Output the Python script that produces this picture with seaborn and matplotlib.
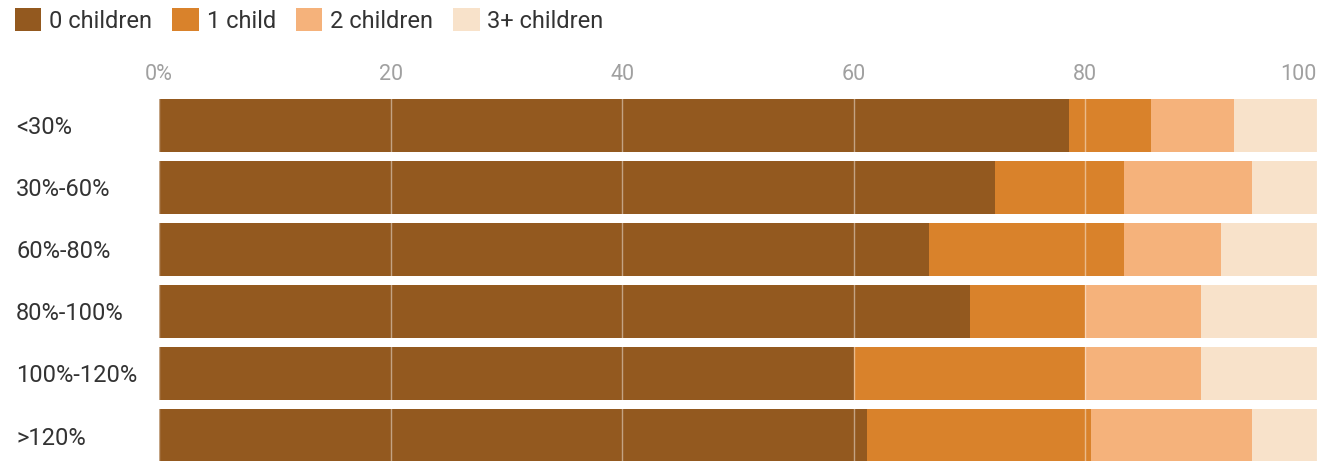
import matplotlib
matplotlib.use("Agg")
import matplotlib.pyplot as plt
from matplotlib.patches import Patch
import seaborn as sns
import pandas as pd
import numpy as np

categories = ["<30%", "30%-60%", "60%-80%", "80%-100%", "100%-120%", ">120%"]
series_names = ["0 children", "1 child", "2 children", "3+ children"]
zero_children = [78.6, 72.2, 66.5, 70.0, 60.0, 61.1]
one_child = [7.1, 11.1, 16.8, 10.0, 20.0, 19.4]
two_children = [7.1, 11.1, 8.4, 10.0, 10.0, 13.9]
three_plus = [7.2, 5.6, 8.3, 10.0, 10.0, 5.6]
colors = ["#93591f", "#d9822b", "#f5b27b", "#f8e2ca"]
tick_values = [0, 20, 40, 60, 80, 100]
tick_labels = ["0%", "20", "40", "60", "80", "100"]

sns.set_theme(style="white")
plt.rcParams["font.family"] = ["Roboto", "DejaVu Sans"]

df = pd.DataFrame({"cat": categories,
                   series_names[0]: zero_children,
                   series_names[1]: one_child,
                   series_names[2]: two_children,
                   series_names[3]: three_plus})
cum = df[series_names].cumsum(axis=1)

W, H = 1335, 461
fig = plt.figure(figsize=(W / 100, H / 100), dpi=100)
ax_left = 159 / W
ax_right = 1317 / W
top_px = 94.5
ax = fig.add_axes([ax_left, 0, ax_right - ax_left, 1 - top_px / H])

for name, col in reversed(list(zip(series_names, colors))):
    sns.barplot(x=cum[name], y=df["cat"], color=col, orient="h",
                width=0.87, ax=ax, saturation=1, edgecolor="none", linewidth=0)

ax.set_xlim(0, 100)
# each category row spans 62 px
ax.set_ylim(-0.5 + (H - top_px) / 62, -0.5)
ax.set_xlabel("")
ax.set_ylabel("")
for s in ax.spines.values():
    s.set_visible(False)

ax.xaxis.tick_top()
ax.set_xticks(tick_values)
ax.set_xticklabels(tick_labels)
ax.tick_params(axis="x", length=0, pad=7, labelsize=15.5, labelcolor="#a0a0a0")
xl = ax.get_xticklabels()
xl[-1].set_horizontalalignment("right")

ax.tick_params(axis="y", length=0, pad=(159 - 16) * 0.72, labelsize=17, labelcolor="#333333")
for lab in ax.get_yticklabels():
    lab.set_horizontalalignment("left")

ax.set_axisbelow(False)
ax.grid(axis="x", color="white", alpha=0.45, linewidth=1)
ax.grid(axis="y", visible=False)

handles = [Patch(facecolor=c, edgecolor="none", label=n) for n, c in zip(series_names, colors)]
fig.legend(handles=handles, loc="upper left", bbox_to_anchor=(15 / W, 1 - 8 / H),
           ncol=4, frameon=False, fontsize=17, handlelength=1.12, handleheight=1.15,
           handletextpad=0.33, columnspacing=0.85, labelcolor="#333333",
           borderpad=0, borderaxespad=0)

fig.savefig("out.png", dpi=100, facecolor="white")
